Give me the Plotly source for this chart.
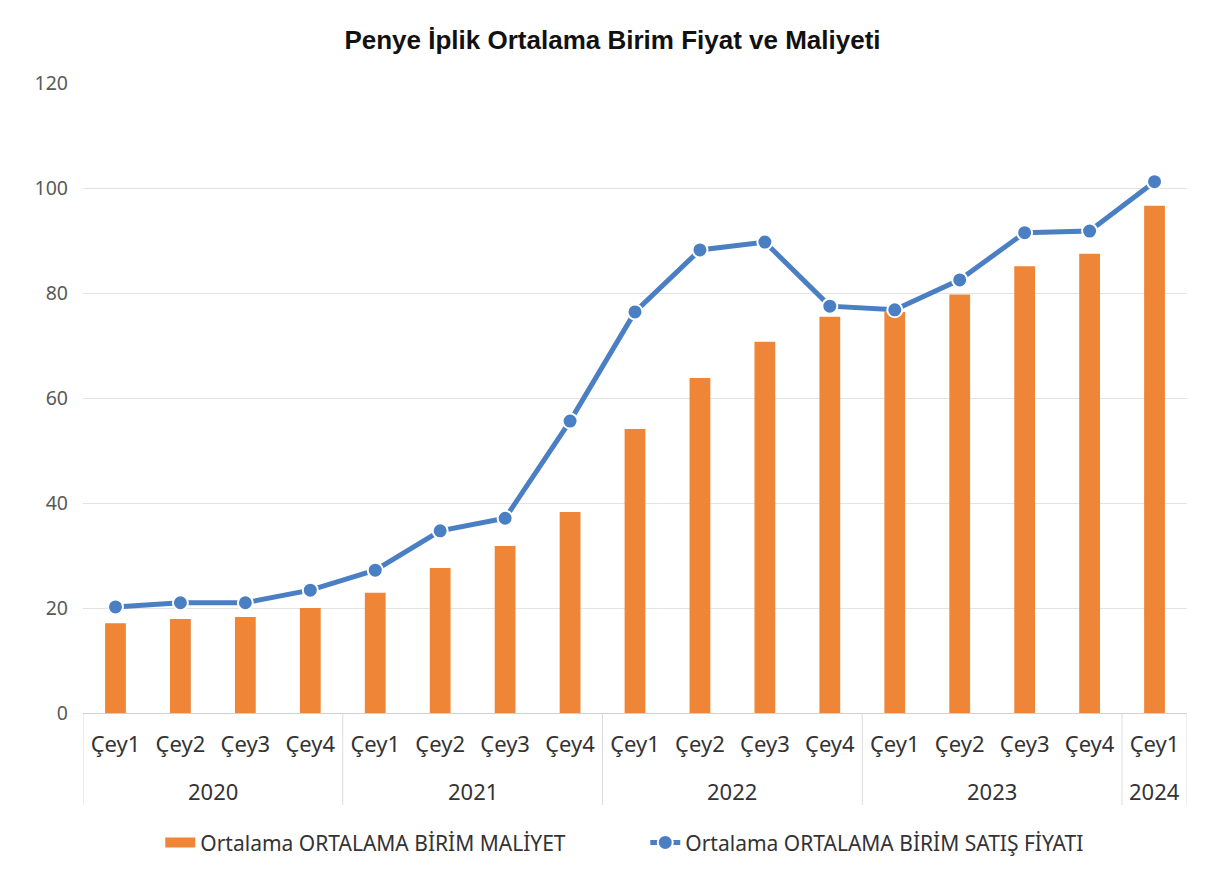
import plotly.graph_objects as go

years = ["2020"] * 4 + ["2021"] * 4 + ["2022"] * 4 + ["2023"] * 4 + ["2024"]
quarters = ["Çey1", "Çey2", "Çey3", "Çey4"] * 4 + ["Çey1"]
maliyet = [17.1, 17.9, 18.3, 20.0, 22.9, 27.6, 31.8, 38.3,
           54.1, 63.8, 70.7, 75.5, 76.4, 79.7, 85.1, 87.5, 96.6]
satis = [20.2, 21.0, 21.0, 23.4, 27.2, 34.7, 37.1, 55.6,
         76.4, 88.2, 89.7, 77.5, 76.8, 82.5, 91.5, 91.8, 101.2]
y_ticks = [0, 20, 40, 60, 80, 100, 120]

cats = [f"{y}-{q}" for y, q in zip(years, quarters)]
n = len(cats)

BAR_NAME = "Ortalama ORTALAMA BİRİM MALİYET"
LINE_NAME = "Ortalama ORTALAMA BİRİM SATIŞ FİYATI"
ORANGE = "#EF8536"
BLUE = "#4A7FC4"

fig = go.Figure()
fig.add_trace(go.Bar(
    x=cats, y=maliyet, name=BAR_NAME, showlegend=False,
    marker=dict(color=ORANGE, line=dict(width=0)), width=0.32,
))
# legend swatch for the bars (wide rectangle like the original)
fig.add_trace(go.Scatter(
    x=[None], y=[None], name=BAR_NAME, mode="lines",
    line=dict(color=ORANGE, width=12),
))
fig.add_trace(go.Scatter(
    x=cats, y=satis, name=LINE_NAME, mode="lines+markers",
    line=dict(color=BLUE, width=5),
    marker=dict(color=BLUE, size=15, line=dict(color="white", width=2)),
))

# group boundaries and year labels
shapes = []
annotations = []
bounds = [-0.5]
start = 0
for i in range(1, n + 1):
    if i == n or years[i] != years[start]:
        annotations.append(dict(
            x=(start + i - 1) / 2, xref="x", y=-0.124, yref="paper",
            text=years[start], showarrow=False, yanchor="middle",
            font=dict(family="Noto Sans", size=22, color="#333333")))
        bounds.append(i - 0.5)
        start = i
for b in bounds:
    shapes.append(dict(type="line", xref="x", yref="paper", x0=b, x1=b,
                       y0=0, y1=-0.146, line=dict(color="#DCDCDC", width=1)))

fig.update_layout(
    width=1209, height=874,
    margin=dict(l=75, r=30, t=75, b=169),
    paper_bgcolor="white", plot_bgcolor="white",
    title=dict(text="<b>Penye İplik Ortalama Birim Fiyat ve Maliyeti</b>",
               x=0.5, xanchor="center", y=0.963, yanchor="middle",
               font=dict(family="Liberation Sans", size=26, color="#111111")),
    font=dict(family="Noto Sans", color="#404040"),
    showlegend=True,
    legend=dict(orientation="h", x=0.07, xanchor="left", y=-0.206, yanchor="middle",
                font=dict(size=21, color="#333333"), traceorder="normal",
                entrywidth=440),
    shapes=shapes,
    annotations=annotations,
)
fig.update_yaxes(range=[0, 120], tickvals=y_ticks, showgrid=True,
                 gridcolor="#E3E3E3", gridwidth=1, zeroline=False,
                 tickfont=dict(size=19.5, color="#595959"), ticks="", showline=False,
                 ticklabelstandoff=14)
fig.update_xaxes(type="category", range=[-0.5, n - 0.5], tickvals=cats, ticktext=quarters,
                 showline=True, linecolor="#D0D0D0", linewidth=1, showgrid=False,
                 tickfont=dict(size=22, color="#333333"), ticks="", ticklabelstandoff=12)

fig.write_html("out.html")
